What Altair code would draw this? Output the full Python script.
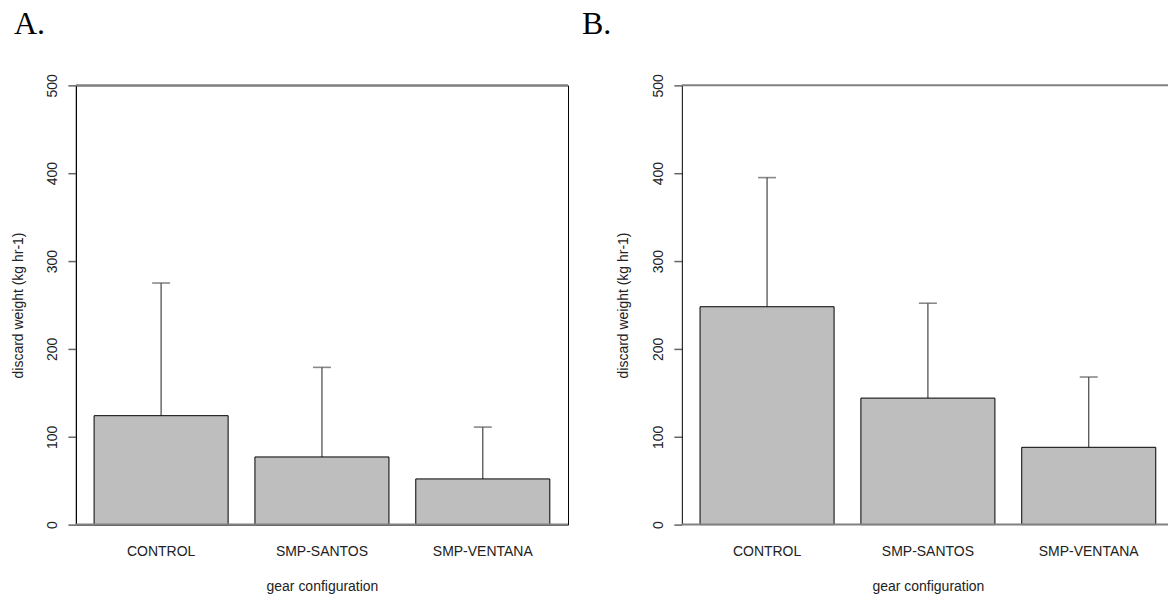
import altair as alt
import pandas as pd

# Gear configurations compared in both panels
gears = ["CONTROL", "SMP-SANTOS", "SMP-VENTANA"]

# Panel A: mean discard weight and its standard deviation (kg hr-1)
mean_a = [124, 77, 52]
sd_a = [151, 102, 59]

# Panel B: mean discard weight and its standard deviation (kg hr-1)
mean_b = [248, 144, 88]
sd_b = [147, 108, 80]

y_ticks = [0, 100, 200, 300, 400, 500]
frame_levels = [0, 500]

FONT = "Liberation Sans"
SERIF = "Liberation Serif"
PLOT_H = 440
PLOT_W_A = 493
PLOT_W_B = 487   # panel B runs off the right edge, so its frame is open there


def make_df(means, sds):
    return pd.DataFrame({
        "gear": gears,
        "mean": means,
        "upper": [m + s for m, s in zip(means, sds)],
    })


def panel(df, letter, width, x_scale, letter_dx, y_title_x):
    y_scale = alt.Scale(domain=[0, 500], nice=False, zero=True)

    x_axis = alt.Axis(
        title="gear configuration", labelAngle=0, ticks=False, domain=False,
        bandPosition=0.5, labelAlign="center", labelBaseline="top",
        labelPadding=20, labelFont=FONT, labelFontSize=14, labelColor="#222",
        titleFont=FONT, titleFontSize=14, titleFontWeight="normal", titleColor="#222",
        titleX=PLOT_W_A / 2, titleY=62, titleAlign="center", titleBaseline="middle",
    )
    y_axis = alt.Axis(
        title="discard weight (kg hr-1)", values=y_ticks, grid=False,
        labelAngle=270, labelAlign="center", labelBaseline="alphabetic",
        labelPadding=11, labelOverlap=False, labelFont=FONT, labelFontSize=14,
        labelColor="#222", tickSize=8, tickColor="#666", tickWidth=1.5,
        domainColor="black", domainWidth=1,
        titleFont=FONT, titleFontSize=14, titleFontWeight="normal", titleColor="#222",
        titleAngle=270, titleX=y_title_x, titleY=PLOT_H / 2, titleAlign="center",
        titleBaseline="middle",
    )

    x = alt.X("gear:N", sort=gears, scale=x_scale, axis=x_axis)
    y = alt.Y("mean:Q", scale=y_scale, axis=y_axis)

    bars = alt.Chart(df).mark_bar(fill="#BEBEBE", stroke="black", strokeWidth=1).encode(
        x=x, y=y
    )
    whisker = alt.Chart(df).mark_rule(color="#444", strokeWidth=1.2).encode(
        x=alt.X("gear:N", sort=gears), y=alt.Y("mean:Q"), y2="upper:Q"
    )
    cap = alt.Chart(df).mark_tick(color="#555", size=18, thickness=1.6).encode(
        x=alt.X("gear:N", sort=gears), y=alt.Y("upper:Q")
    )
    frame = alt.Chart(pd.DataFrame({"level": frame_levels})).mark_rule(
        color="#808080", strokeWidth=2
    ).encode(y=alt.Y("level:Q"))

    return alt.layer(whisker, bars, cap, frame).properties(
        width=width,
        height=PLOT_H,
        title=alt.TitleParams(
            letter, anchor="start", frame="group", font=SERIF, fontSize=32,
            fontWeight="normal", color="black", dx=letter_dx, offset=8,
            baseline="alphabetic",
        ),
    )


# Same bar width and spacing in both panels; B's band layout is shifted so its
# bars sit where they would in a full-width panel.
scale_a = alt.Scale(domain=gears, paddingInner=1 / 6, paddingOuter=0.1133)
scale_b = alt.Scale(domain=gears, paddingInner=1 / 6, paddingOuter=0.0947, align=0.598)

panel_a = panel(make_df(mean_a, sd_a), "A.", PLOT_W_A, scale_a, -62, -57).properties(
    view=alt.ViewBackground(stroke="black", strokeWidth=1)
)
panel_b = panel(make_df(mean_b, sd_b), "B.", PLOT_W_B, scale_b, -100, -58).properties(
    view=alt.ViewBackground(stroke=None)
)

chart = alt.hconcat(panel_a, panel_b, spacing=114, bounds="flush").properties(
    autosize=alt.AutoSizeParams(type="pad"),
    padding={"left": 11, "top": 6, "right": 0, "bottom": 0},
    background="white",
)

chart.save("out.html", embed_options={"renderer": "svg", "actions": False})
